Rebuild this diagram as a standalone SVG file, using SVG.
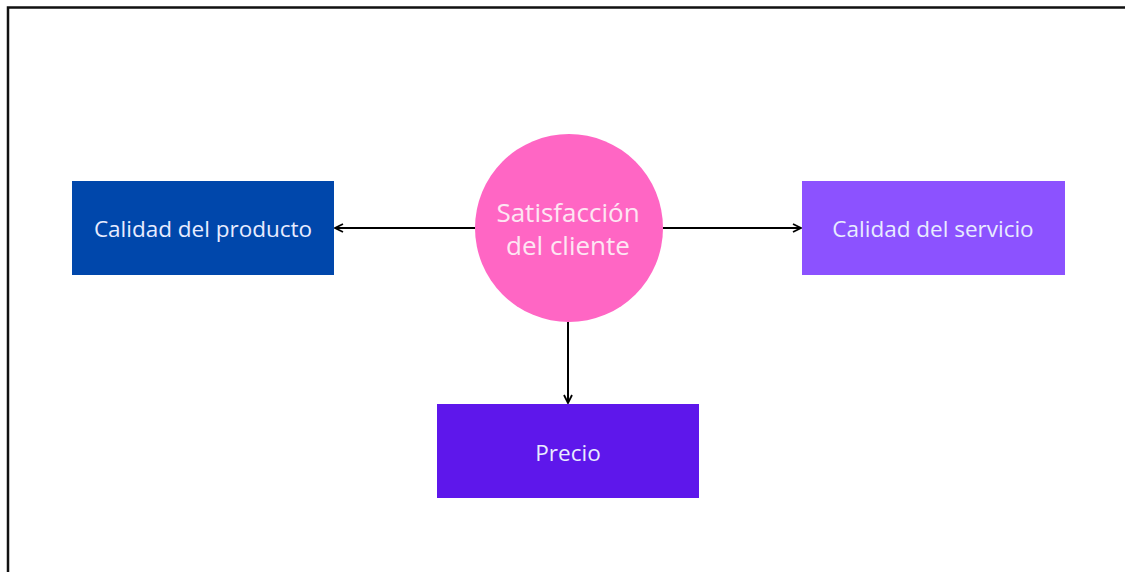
<svg xmlns="http://www.w3.org/2000/svg" width="1125" height="572" viewBox="0 0 1125 572">
  <defs>
    <marker id="arrow" viewBox="0 0 10 10" refX="9" refY="5" markerWidth="10" markerHeight="10" markerUnits="userSpaceOnUse" orient="auto">
      <path d="M1,1 L9,5 L1,9" fill="none" stroke="#000" stroke-width="1.8"/>
    </marker>
    <style>
      .lbl { font-family: "Open Sans", "Noto Sans", sans-serif; fill: #e8ecff; text-anchor: middle; dominant-baseline: central; }
      .box { font-size: 22.5px; }
      .hub { font-size: 26px; fill: #fde6f3; }
      .conn { stroke: #000; stroke-width: 2; fill: none; marker-end: url(#arrow); }
    </style>
  </defs>
  <rect width="1125" height="572" fill="#fff"/>
  <!-- frame: top and left edges -->
  <path d="M8,572 V7.5 H1125" fill="none" stroke="#111" stroke-width="2.5"/>

  <g id="connectors">
    <line class="conn" x1="475" y1="228" x2="335" y2="228"/>
    <line class="conn" x1="663" y1="228" x2="801" y2="228"/>
    <line class="conn" x1="568" y1="322" x2="568" y2="403"/>
  </g>

  <g id="calidad-producto">
    <rect x="72" y="181" width="262" height="94" fill="#0047ab"/>
    <text class="lbl box" x="203" y="228">Calidad del producto</text>
  </g>

  <g id="satisfaccion">
    <circle cx="569" cy="228" r="94" fill="#ff66c4"/>
    <text class="lbl hub" x="568" y="212">Satisfacción</text>
    <text class="lbl hub" x="568" y="245">del cliente</text>
  </g>

  <g id="calidad-servicio">
    <rect x="802" y="181" width="263" height="94" fill="#8c52ff"/>
    <text class="lbl box" x="933" y="228">Calidad del servicio</text>
  </g>

  <g id="precio">
    <rect x="437" y="404" width="262" height="94" fill="#5e17eb"/>
    <text class="lbl box" x="568" y="452">Precio</text>
  </g>
</svg>
